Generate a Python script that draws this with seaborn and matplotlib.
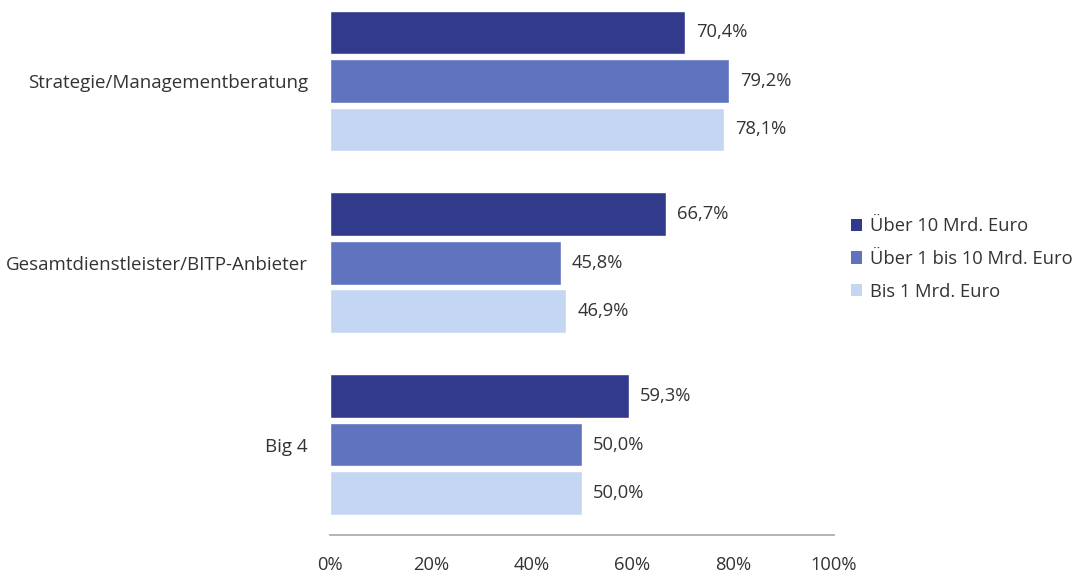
import matplotlib
matplotlib.use("Agg")
import matplotlib.pyplot as plt
from matplotlib.patches import Patch
import seaborn as sns
import pandas as pd

categories = ["Strategie/Managementberatung", "Gesamtdienstleister/BITP-Anbieter", "Big 4"]
series = ["Über 10 Mrd. Euro", "Über 1 bis 10 Mrd. Euro", "Bis 1 Mrd. Euro"]
values_ueber10 = [70.4, 66.7, 59.3]
values_1bis10 = [79.2, 45.8, 50.0]
values_bis1 = [78.1, 46.9, 50.0]
x_ticks = [0, 20, 40, 60, 80, 100]
colors = ["#323A8C", "#5F73BE", "#C5D6F2"]

rows = []
for s, vals in zip(series, [values_ueber10, values_1bis10, values_bis1]):
    for c, v in zip(categories, vals):
        rows.append({"Kategorie": c, "Größe": s, "Wert": v})
df = pd.DataFrame(rows)

sns.set_theme(style="white")
plt.rcParams["font.family"] = ["Open Sans", "DejaVu Sans"]
text_color = "#333333"

fig = plt.figure(figsize=(10.74, 5.73), dpi=100)
ax = fig.add_axes([330 / 1074, 1 - 535 / 573, (834 - 330) / 1074, 535 / 573])

sns.barplot(data=df, y="Kategorie", x="Wert", hue="Größe", order=categories,
            hue_order=series, palette=colors, orient="h", width=0.8, gap=0.1,
            saturation=1, ax=ax, legend=False, errorbar=None)

for container in ax.containers:
    ax.bar_label(container, labels=[f"{b.get_width():.1f}".replace(".", ",") + "%" for b in container],
                 padding=8, fontsize=13.2, color=text_color)

ax.set_xlim(0, 100)
ax.set_ylim(2.497, -0.445)
ax.set_xticks(x_ticks)
ax.set_xticklabels([f"{t}%" for t in x_ticks])
ax.tick_params(axis="x", length=0, pad=15, labelsize=13.2, colors=text_color)
ax.tick_params(axis="y", length=0, pad=16, labelsize=13.5, colors=text_color)
ax.set_xlabel("")
ax.set_ylabel("")
for side in ["top", "right", "left"]:
    ax.spines[side].set_visible(False)
ax.spines["bottom"].set_color("#A6A6A6")
ax.spines["bottom"].set_linewidth(1.2)

handles = [Patch(facecolor=c, edgecolor="none") for c in colors]
fig.legend(handles, series, loc="center left", bbox_to_anchor=(834 / 1074, 1 - 259 / 573),
           frameon=False, fontsize=13.2, handlelength=0.65, handleheight=0.65,
           handletextpad=0.4, labelspacing=0.8, labelcolor=text_color)

fig.savefig("out.png", dpi=100)
